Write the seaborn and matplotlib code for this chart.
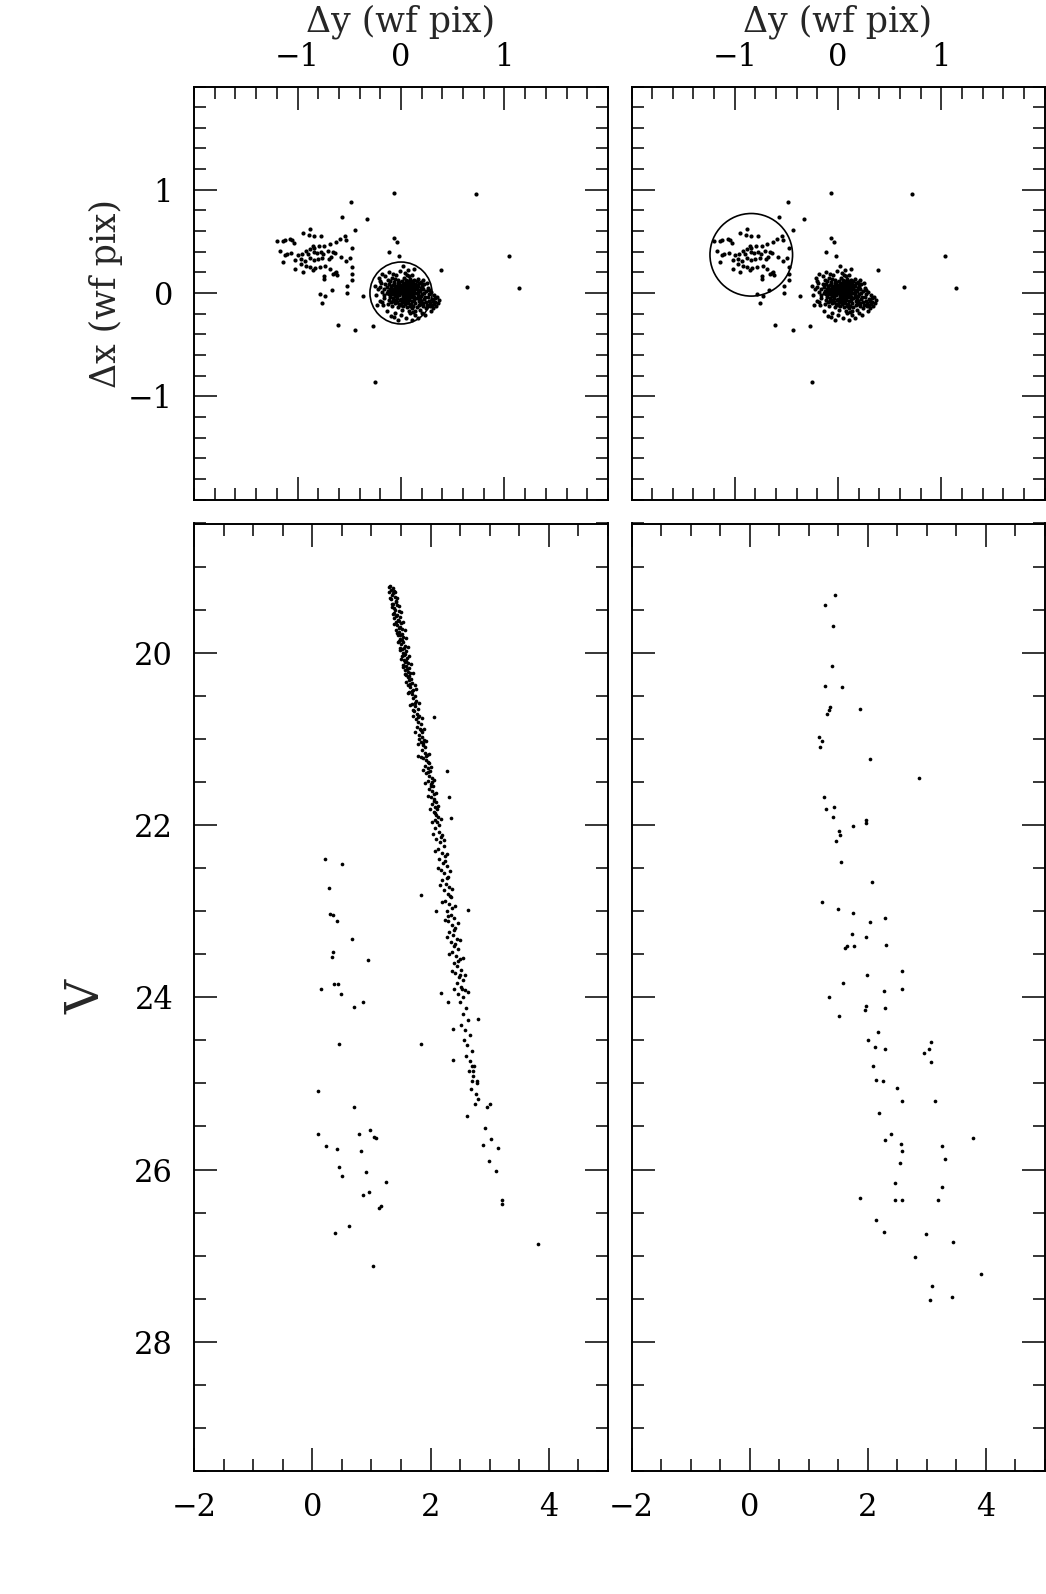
import matplotlib
matplotlib.use("Agg")
import matplotlib.pyplot as plt
import pandas as pd
import seaborn as sns
from matplotlib.patches import Circle
from matplotlib.ticker import FixedLocator, MultipleLocator

# ================= offsets (dy, dx) in wf pixels, same stars in both top panels =================
core_pts = [
    (0.02, -0.01), (0.05, 0.03), (-0.03, 0.02), (0.08, -0.04), (-0.06, -0.03), (0.11, 0.01), (0.00, 0.06), (-0.09, 0.04), (0.04, -0.08), (0.13, -0.07),
    (-0.12, -0.01), (0.07, 0.08), (-0.02, -0.11), (0.16, 0.03), (-0.07, 0.09), (0.10, -0.11), (0.19, -0.03), (-0.14, 0.06), (0.01, 0.12), (-0.05, -0.07),
    (0.14, 0.09), (0.22, -0.06), (-0.10, -0.09), (0.06, -0.14), (0.17, -0.12), (-0.16, -0.05), (0.03, 0.15), (0.24, 0.02), (-0.11, 0.12), (0.09, 0.05),
    (-0.01, 0.03), (0.12, -0.02), (-0.04, 0.07), (0.06, 0.01), (0.15, -0.05), (-0.08, -0.05), (0.03, -0.04), (0.10, 0.04), (-0.13, 0.02), (0.20, 0.06),
    (-0.06, 0.14), (0.27, -0.08), (0.18, -0.16), (-0.18, 0.01), (0.08, 0.12), (0.01, -0.16), (-0.09, -0.13), (0.13, 0.13), (0.25, -0.12), (-0.03, 0.10),
    (0.05, 0.06), (0.11, -0.08), (-0.07, 0.00), (0.16, 0.07), (0.21, -0.10), (0.00, -0.06), (-0.15, 0.09), (0.07, -0.10), (0.14, 0.00), (-0.02, 0.05),
    (0.09, -0.01), (0.04, 0.09), (-0.10, 0.07), (0.18, 0.02), (0.12, 0.06), (-0.05, -0.02), (0.02, 0.02), (0.23, -0.04), (-0.12, -0.07), (0.06, -0.06),
    (0.30, -0.06), (0.33, -0.09), (0.28, -0.13), (0.35, -0.04), (0.31, -0.15), (0.26, 0.05), (0.36, -0.10), (0.29, 0.01), (0.32, -0.02), (0.34, -0.13),
    (-0.20, -0.08), (-0.22, 0.04), (-0.19, 0.10), (-0.24, -0.02), (-0.17, -0.12), (-0.21, 0.15), (-0.14, -0.17), (-0.25, 0.07), (-0.18, 0.18), (-0.23, -0.12),
    (0.04, 0.19), (-0.08, 0.18), (0.11, 0.17), (0.16, 0.14), (-0.01, 0.21), (0.07, 0.22), (0.19, 0.11), (-0.12, 0.20), (0.02, 0.26), (0.13, 0.23),
    (0.00, -0.21), (-0.06, -0.19), (0.09, -0.19), (0.14, -0.21), (0.05, -0.24), (-0.10, -0.22), (0.20, -0.19), (0.23, -0.21), (0.11, -0.26), (-0.03, -0.26),
    (0.03, 0.04), (-0.04, -0.05), (0.08, 0.02), (0.01, -0.09), (0.10, 0.09), (-0.08, 0.03), (0.05, -0.02), (0.15, 0.04), (-0.01, 0.08), (0.12, -0.13),
    (-0.06, 0.06), (0.07, -0.03), (0.17, -0.08), (-0.11, 0.04), (0.02, 0.10), (0.20, -0.01), (-0.03, -0.14), (0.09, 0.14), (0.24, -0.15), (-0.16, -0.02),
    (0.06, 0.17), (0.14, -0.17), (-0.13, -0.11), (0.22, 0.09), (-0.09, 0.15), (0.18, -0.06), (0.00, 0.00), (0.04, -0.11), (0.11, 0.11), (-0.02, -0.02),
    (0.27, -0.01), (0.25, 0.10), (0.21, 0.13), (-0.20, 0.12), (-0.15, 0.16), (0.29, -0.17), (0.32, -0.11), (0.37, -0.07), (0.16, -0.24), (-0.07, -0.23),
    (0.01, 0.01), (0.06, 0.04), (-0.02, 0.00), (0.09, 0.07), (0.04, 0.00), (0.13, 0.03), (-0.05, 0.04), (0.08, -0.07), (0.12, 0.00), (0.00, 0.04),
    (-0.04, 0.01), (0.05, -0.05), (0.10, -0.04), (0.16, 0.00), (-0.08, 0.08), (0.03, 0.07), (0.14, -0.10), (-0.01, -0.07), (0.19, -0.08), (0.07, 0.10),
    (-0.10, 0.01), (0.11, -0.15), (0.02, -0.13), (0.17, 0.10), (-0.06, -0.10), (0.21, 0.04), (0.08, -0.17), (-0.13, 0.13), (0.15, 0.12), (-0.03, 0.13),
    (-0.11, -0.04), (-0.07, 0.11), (0.18, -0.11), (0.22, 0.00), (0.05, 0.13), (-0.14, 0.00), (0.10, 0.12), (0.15, -0.14), (-0.04, -0.09), (0.01, 0.07),
    (0.08, 0.05), (0.13, -0.04), (-0.09, -0.01), (0.03, -0.06), (0.19, 0.05), (0.06, -0.09), (-0.02, 0.11), (0.16, -0.02), (0.11, 0.07), (-0.06, 0.02),
    (0.24, -0.09), (0.20, 0.08), (-0.12, 0.09), (0.09, -0.13), (0.00, -0.12), (0.26, -0.04), (0.14, 0.06), (-0.03, 0.04), (0.07, 0.00), (0.12, 0.10),
    (-0.16, 0.04), (0.04, 0.03), (0.17, -0.04), (-0.08, -0.08), (0.02, -0.03), (0.21, -0.13), (0.10, 0.01), (-0.01, 0.02), (0.05, 0.10), (0.15, 0.08),
    (0.28, -0.10), (0.31, -0.08), (0.33, -0.05), (0.30, -0.12), (0.27, 0.03), (-0.18, -0.09), (-0.20, 0.06), (0.08, 0.16), (0.12, -0.18), (-0.05, 0.17),
]
companion_pts = [
    (-0.88, 0.62), (-0.95, 0.585), (-0.89, 0.565), (-0.84, 0.55), (-0.77, 0.55), (-1.20, 0.503), (-1.14, 0.50), (-1.12, 0.51), (-1.07, 0.52), (-1.05, 0.51),
    (-1.03, 0.485), (-0.59, 0.52), (-0.54, 0.55), (-0.53, 0.51), (-0.63, 0.49), (-0.69, 0.47), (-0.74, 0.46), (-0.79, 0.46), (-0.85, 0.46), (-0.84, 0.44),
    (-0.88, 0.43), (-0.92, 0.41), (-0.47, 0.44), (-1.17, 0.41), (-1.12, 0.37), (-1.10, 0.38), (-1.06, 0.39), (-1.00, 0.37), (-0.96, 0.38), (-0.90, 0.38),
    (-0.84, 0.40), (-0.81, 0.39), (-0.77, 0.40), (-0.75, 0.38), (-0.71, 0.41), (-0.66, 0.40), (-0.64, 0.39), (-0.58, 0.35), (-0.53, 0.31), (-0.49, 0.34),
    (-1.02, 0.32), (-0.97, 0.33), (-0.93, 0.31), (-0.88, 0.34), (-0.84, 0.32), (-0.80, 0.33), (-0.76, 0.34), (-0.70, 0.33), (-0.68, 0.35), (-1.14, 0.30),
    (-0.97, 0.28), (-0.92, 0.26), (-0.88, 0.25), (-0.83, 0.24), (-0.78, 0.25), (-0.73, 0.26), (-1.02, 0.23), (-0.95, 0.20), (-0.85, 0.22), (-0.69, 0.23),
    (-0.66, 0.18), (-0.64, 0.19), (-0.62, 0.17), (-0.63, 0.20), (-0.47, 0.25), (-0.47, 0.18), (-0.47, 0.13), (-0.74, 0.16), (-0.74, 0.14), (-0.52, 0.07),
    (-0.67, 0.03), (-0.52, 0.00), (-0.78, -0.01), (-0.73, -0.03), (-0.76, -0.10),
]
stray_pts = [
    (-0.07, 0.97), (0.72, 0.96), (-0.48, 0.88), (-0.57, 0.74), (-0.33, 0.72), (-0.44, 0.61), (-0.07, 0.535), (-0.04, 0.49), (-0.12, 0.40), (-0.02, 0.36),
    (1.04, 0.36), (0.39, 0.22), (0.64, 0.06), (1.14, 0.05), (-0.25, -0.86), (-0.61, -0.31), (-0.44, -0.36), (-0.27, -0.32), (-0.37, -0.03),
]

# selection circles (dy centre, dx centre, radius)
circle_left = (0.0, 0.0, 0.30)
circle_right = (-0.84, 0.37, 0.40)

# ================= colour-magnitude diagrams (colour, V) =================
ms_left = [
    (1.31, 19.22), (1.36, 19.25), (1.38, 19.28), (1.30, 19.30), (1.35, 19.33), (1.40, 19.35), (1.33, 19.38), (1.41, 19.40), (1.37, 19.43), (1.44, 19.45),
    (1.35, 19.47), (1.40, 19.50), (1.46, 19.52), (1.38, 19.54), (1.43, 19.56), (1.48, 19.58), (1.39, 19.60), (1.45, 19.62), (1.41, 19.64), (1.50, 19.66),
    (1.44, 19.68), (1.48, 19.70), (1.52, 19.72), (1.42, 19.74), (1.47, 19.76), (1.51, 19.78), (1.45, 19.80), (1.54, 19.82), (1.49, 19.84), (1.46, 19.86),
    (1.53, 19.88), (1.50, 19.90), (1.56, 19.92), (1.49, 19.94), (1.52, 19.96), (1.58, 19.98), (1.53, 20.00), (1.57, 20.02), (1.51, 20.04), (1.60, 20.06),
    (1.55, 20.08), (1.59, 20.10), (1.62, 20.12), (1.54, 20.14), (1.58, 20.16), (1.63, 20.18), (1.57, 20.20), (1.61, 20.22), (1.65, 20.24), (1.59, 20.26),
    (1.62, 20.28), (1.67, 20.30), (1.63, 20.32), (1.68, 20.35), (1.61, 20.38), (1.66, 20.40), (1.71, 20.43), (1.64, 20.46), (1.69, 20.48), (1.73, 20.50),
    (1.33, 19.27), (1.37, 19.31), (1.42, 19.41), (1.39, 19.48), (1.42, 19.57), (1.47, 19.63), (1.46, 19.71), (1.49, 19.79), (1.52, 19.85), (1.55, 19.95),
    (1.55, 20.03), (1.57, 20.11), (1.60, 20.19), (1.64, 20.27), (1.66, 20.36), (1.69, 20.44),
    (1.29, 19.24), (1.40, 19.29), (1.32, 19.36), (1.43, 19.37), (1.34, 19.44), (1.47, 19.46), (1.36, 19.55), (1.50, 19.53), (1.39, 19.67), (1.53, 19.64),
    (1.43, 19.77), (1.56, 19.74), (1.45, 19.87), (1.58, 19.83), (1.48, 19.97), (1.61, 19.93), (1.50, 20.07), (1.64, 20.04), (1.53, 20.17), (1.67, 20.13),
    (1.56, 20.25), (1.70, 20.23), (1.59, 20.34), (1.73, 20.37), (1.62, 20.47), (1.76, 20.42),
    (1.71, 20.53), (1.76, 20.56), (1.68, 20.59), (1.74, 20.62), (1.79, 20.65), (1.72, 20.68), (1.77, 20.71), (1.81, 20.74), (1.75, 20.77), (1.79, 20.80),
    (1.84, 20.83), (1.77, 20.86), (1.82, 20.89), (1.86, 20.92), (1.80, 20.95), (1.85, 20.98), (1.89, 21.01), (1.83, 21.04), (1.87, 21.07), (1.91, 21.10),
    (1.85, 21.13), (1.90, 21.16), (1.94, 21.19), (1.88, 21.22), (1.93, 21.25), (1.97, 21.28), (1.91, 21.31), (1.95, 21.34), (1.99, 21.37), (1.93, 21.40),
    (1.98, 21.43), (2.02, 21.46), (1.96, 21.49), (2.00, 21.52), (2.04, 21.55), (1.98, 21.58), (2.03, 21.61), (2.06, 21.64), (2.01, 21.67), (2.05, 21.70),
    (2.09, 21.73), (2.03, 21.76), (2.07, 21.79), (2.11, 21.82), (2.05, 21.85), (2.09, 21.88), (2.13, 21.91), (2.07, 21.94), (2.11, 21.97), (2.15, 22.00),
    (1.74, 20.58), (1.78, 20.75), (1.83, 20.90), (1.88, 21.05), (1.92, 21.20), (1.96, 21.38), (2.00, 21.55), (2.05, 21.72), (2.08, 21.86), (1.70, 20.66),
    (1.81, 21.00), (1.95, 21.27), (2.03, 21.50),
    (1.66, 20.61), (1.81, 20.58), (1.71, 20.73), (1.85, 20.76), (1.74, 20.92), (1.89, 20.88), (1.78, 21.06), (1.93, 21.03), (1.83, 21.21), (1.97, 21.18),
    (1.87, 21.36), (2.01, 21.33), (1.91, 21.51), (2.05, 21.48), (1.95, 21.66), (2.09, 21.63), (1.99, 21.81), (2.13, 21.78), (2.03, 21.96), (2.17, 21.93),
    (2.08, 22.04), (2.14, 22.08), (2.19, 22.12), (2.10, 22.16), (2.16, 22.20), (2.22, 22.24), (2.13, 22.28), (2.19, 22.32), (2.24, 22.36), (2.15, 22.40),
    (2.21, 22.44), (2.27, 22.48), (2.18, 22.52), (2.23, 22.56), (2.30, 22.60), (2.20, 22.64), (2.26, 22.68), (2.32, 22.72), (2.22, 22.76), (2.29, 22.80),
    (2.35, 22.84), (2.25, 22.88), (2.31, 22.92), (2.37, 22.96), (2.27, 23.00), (2.34, 23.04), (2.40, 23.08), (2.29, 23.12), (2.36, 23.16), (2.42, 23.20),
    (2.31, 23.24), (2.38, 23.28), (2.44, 23.32), (2.34, 23.36), (2.40, 23.40), (2.47, 23.44), (2.36, 23.48), (2.43, 23.52), (2.49, 23.56), (2.39, 23.60),
    (2.45, 23.64), (2.52, 23.68), (2.41, 23.72), (2.48, 23.76), (2.55, 23.80), (2.44, 23.84), (2.51, 23.88), (2.58, 23.92), (2.47, 23.96), (2.54, 24.00),
    (2.17, 22.14), (2.24, 22.42), (2.28, 22.62), (2.33, 22.82), (2.30, 23.06), (2.39, 23.22), (2.42, 23.38), (2.46, 23.58), (2.50, 23.74), (2.53, 23.90),
    (2.04, 22.10), (2.23, 22.18), (2.08, 22.30), (2.27, 22.34), (2.12, 22.50), (2.33, 22.54), (2.16, 22.70), (2.37, 22.74), (2.20, 22.90), (2.41, 22.94),
    (2.24, 23.10), (2.46, 23.14), (2.28, 23.30), (2.50, 23.34), (2.32, 23.50), (2.54, 23.54), (2.36, 23.70), (2.59, 23.74), (2.40, 23.90), (2.63, 23.94),
    (2.50, 24.06), (2.60, 24.12), (2.55, 24.20), (2.63, 24.26), (2.52, 24.32), (2.59, 24.38), (2.66, 24.44), (2.57, 24.50), (2.62, 24.56), (2.70, 24.62),
    (2.60, 24.68), (2.67, 24.74), (2.74, 24.80), (2.65, 24.86), (2.71, 24.92), (2.78, 25.00), (2.69, 25.06), (2.76, 25.12),
    (2.05, 20.75), (2.28, 21.37), (2.31, 21.67), (2.35, 21.92), (1.79, 21.20), (1.84, 22.81), (2.09, 23.00), (2.64, 22.99), (2.17, 23.95), (2.29, 24.06),
    (2.38, 24.37), (1.84, 24.54), (2.38, 24.73), (2.80, 24.25), (2.70, 24.97), (2.79, 24.97),
]
faint_left = [
    (2.70, 24.80), (2.71, 24.86), (2.80, 25.18), (2.75, 25.24), (3.01, 25.24), (2.95, 25.27), (2.61, 25.38), (2.92, 25.52), (3.02, 25.65), (2.89, 25.72),
    (3.14, 25.75), (2.98, 25.90), (3.10, 26.02), (3.20, 26.35), (3.21, 26.40), (3.82, 26.86),
]
blue_left = [
    (0.22, 22.39), (0.51, 22.45), (0.29, 22.73), (0.30, 23.03), (0.35, 23.04), (0.42, 23.12), (0.67, 23.32), (0.35, 23.47), (0.34, 23.53), (0.95, 23.57),
    (0.37, 23.85), (0.44, 23.85), (0.15, 23.90), (0.48, 23.96), (0.85, 24.05), (0.71, 24.11), (0.45, 24.54), (0.09, 25.09), (0.71, 25.27), (0.09, 25.59),
    (0.24, 25.73), (0.41, 25.76), (0.79, 25.59), (0.98, 25.54), (1.04, 25.62), (1.07, 25.63), (0.82, 25.79), (0.46, 25.97), (0.50, 26.08), (0.90, 26.03),
    (1.24, 26.14), (0.86, 26.29), (0.96, 26.26), (1.13, 26.45), (1.16, 26.42), (0.62, 26.65), (0.38, 26.74), (1.03, 27.12),
]
cmd_right = [
    (1.45, 19.33), (1.28, 19.45), (1.41, 19.69), (1.39, 20.16), (1.28, 20.39), (1.56, 20.40), (1.37, 20.63), (1.34, 20.66), (1.32, 20.71), (1.87, 20.65),
    (1.18, 20.98), (1.23, 21.02), (1.20, 21.10), (2.05, 21.23), (2.87, 21.46), (1.27, 21.67), (1.30, 21.81), (1.43, 21.79), (1.41, 21.91), (1.98, 21.94),
    (1.98, 21.98), (1.75, 22.01), (1.51, 22.07), (1.54, 22.12), (1.46, 22.19), (1.55, 22.43), (2.07, 22.66), (1.23, 22.89), (1.50, 22.98), (1.75, 23.02),
    (2.30, 23.08), (2.05, 23.13), (1.73, 23.27), (1.98, 23.30), (2.31, 23.39), (1.65, 23.41), (1.62, 23.43), (1.77, 23.41), (2.59, 23.70), (1.99, 23.74),
    (1.58, 23.83), (2.28, 23.93), (2.59, 23.91), (1.34, 24.00), (1.98, 24.10), (1.96, 24.15), (2.29, 24.12), (1.51, 24.22),
    (2.01, 24.50), (2.12, 24.58), (2.30, 24.60), (3.08, 24.52), (3.04, 24.60), (2.95, 24.65), (3.08, 24.75), (2.09, 24.80), (2.17, 24.40),
    (2.14, 24.96), (2.27, 24.97), (2.50, 25.05), (2.59, 25.20), (3.15, 25.21), (2.20, 25.34), (2.39, 25.59), (2.30, 25.66), (2.57, 25.70), (2.59, 25.79),
    (3.79, 25.63), (3.26, 25.73), (3.31, 25.88), (2.55, 25.93), (2.46, 26.16), (3.26, 26.20), (1.88, 26.33), (2.47, 26.35), (2.58, 26.35), (3.20, 26.35),
    (2.14, 26.59), (2.28, 26.72), (2.99, 26.75), (3.45, 26.84), (2.81, 27.02), (3.92, 27.21), (3.09, 27.35), (3.43, 27.48), (3.06, 27.51),
]

# ================= style =================
sns.set_style("ticks")
plt.rcParams['font.family'] = ['DejaVu Serif', 'DejaVu Sans']
plt.rcParams['axes.unicode_minus'] = True

W, H = 1046, 1594
fig = plt.figure(figsize=(W / 100, H / 100), dpi=100)


def box(x0, x1, top, bottom):
    return [x0 / W, 1 - bottom / H, (x1 - x0) / W, (bottom - top) / H]


ax_tl = fig.add_axes(box(194, 608, 86.5, 499.5))
ax_tr = fig.add_axes(box(631.5, 1044.5, 86.5, 499.5))
ax_bl = fig.add_axes(box(194, 608, 523.5, 1471))
ax_br = fig.add_axes(box(631.5, 1044.5, 523.5, 1471))


def frame(ax):
    ax.tick_params(which='both', direction='in', top=True, right=True, bottom=True, left=True,
                   width=1.1, colors='black', labelsize=22)
    ax.tick_params(which='major', length=16.5)
    ax.tick_params(which='minor', length=8.4)
    for sp in ax.spines.values():
        sp.set_linewidth(1.4)
        sp.set_color('black')


def to_df(pts, xname, yname):
    return pd.DataFrame(pts, columns=[xname, yname])


offsets = pd.concat([to_df(core_pts, 'dy', 'dx'), to_df(companion_pts, 'dy', 'dx'),
                     to_df(stray_pts, 'dy', 'dx')], ignore_index=True)

for ax, circ in [(ax_tl, circle_left), (ax_tr, circle_right)]:
    sns.scatterplot(data=offsets, x='dy', y='dx', ax=ax, s=9, color='black', linewidth=0, legend=False)
    ax.add_patch(Circle((circ[0], circ[1]), circ[2], fill=False, lw=1.2, color='black'))
    ax.set_xlim(-2, 2)
    ax.set_ylim(-2, 2)
    ax.xaxis.set_major_locator(FixedLocator([-1, 0, 1]))
    ax.yaxis.set_major_locator(FixedLocator([-1, 0, 1]))
    ax.xaxis.set_minor_locator(MultipleLocator(0.2))
    ax.yaxis.set_minor_locator(MultipleLocator(0.2))
    frame(ax)
    ax.tick_params(axis='x', labeltop=True, labelbottom=False, pad=10)
    ax.xaxis.set_label_position('top')
    ax.set_xlabel('Δy (wf pix)', fontsize=25, labelpad=7)
    ax.set_ylabel('')

ax_tl.tick_params(axis='y', labelleft=True, pad=15)
ax_tl.set_ylabel('Δx (wf pix)', fontsize=25, labelpad=4)
ax_tr.tick_params(axis='y', labelleft=False)

cmd_left = pd.concat([to_df(ms_left, 'col', 'V'), to_df(faint_left, 'col', 'V'),
                      to_df(blue_left, 'col', 'V')], ignore_index=True)
cmd_r = to_df(cmd_right, 'col', 'V')

for ax, df in [(ax_bl, cmd_left), (ax_br, cmd_r)]:
    sns.scatterplot(data=df, x='col', y='V', ax=ax, s=7, color='black', linewidth=0, legend=False)
    ax.set_xlim(-2, 5)
    ax.set_ylim(29.5, 18.5)
    ax.xaxis.set_major_locator(MultipleLocator(2))
    ax.xaxis.set_minor_locator(MultipleLocator(0.5))
    ax.yaxis.set_major_locator(MultipleLocator(2))
    ax.yaxis.set_minor_locator(MultipleLocator(0.5))
    frame(ax)
    ax.tick_params(axis='x', labelbottom=True, pad=15)
    ax.set_xlabel('')
    ax.set_ylabel('')

ax_bl.tick_params(axis='y', labelleft=True, pad=15)
ax_bl.set_ylabel('V', fontsize=34, labelpad=18)
ax_br.tick_params(axis='y', labelleft=False)

fig.savefig('out.png', dpi=100)
